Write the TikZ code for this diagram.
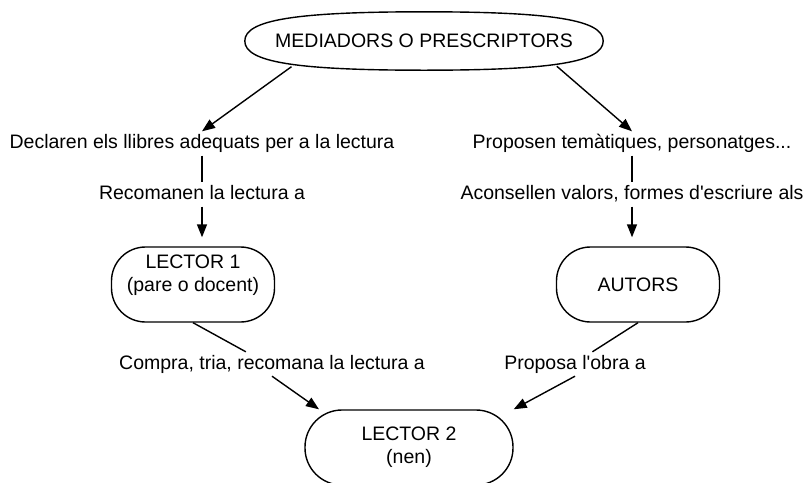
\documentclass[tikz,border=0pt]{standalone}
\usepackage{fontspec}
\setmainfont{Liberation Sans}
\usetikzlibrary{arrows.meta}

\tikzset{
  role/.style={minimum width=358pt, minimum height=58pt, inner sep=0pt},
  actor/.style={draw, line width=1.4pt, rounded corners=34pt, minimum width=163pt, minimum height=75pt, align=center, inner sep=0pt},
  relation/.style={inner sep=3pt, text height=14pt, text depth=4pt},
  link/.style={line width=1.4pt},
  flow/.style={link, -{Triangle[length=13pt,width=10pt]}},
}

\begin{document}
\begin{tikzpicture}[x=1pt, y=-1pt, font=\fontsize{19.5}{23}\selectfont]
    \useasboundingbox (0,0) rectangle (805,482);
    \clip (0,0) rectangle (805,482);
    % Nodes
    \node[role] (med) at (424,41) {MEDIADORS O PRESCRIPTORS} ; %
    \draw[link, line join=round] (med.west) .. controls +(0,-21) and +(-129,0) .. (med.north)
      .. controls +(129,0) and +(0,-21) .. (med.east)
      .. controls +(0,21) and +(129,0) .. (med.south)
      .. controls +(-129,0) and +(0,21) .. (med.west) -- cycle ; %
    \node[relation] (decl) at (202,143.5) {Declaren els llibres adequats per a la lectura} ; %
    \node[relation] (recom) at (202,194.5) {Recomanen la lectura a} ; %
    \node[relation] (prop) at (632,143.5) {Proposen temàtiques, personatges...} ; %
    \node[relation] (acons) at (632,194.5) {Aconsellen valors, formes d\textquotesingle escriure als} ; %
    \node[actor] (lec1) at (193,284.5) {LECTOR 1\\(pare o docent)\\\mbox{}} ; %
    \node[actor] (aut) at (638,284.5) {AUTORS} ; %
    \node[relation] (compra) at (272,364) {Compra, tria, recomana la lectura a} ; %
    \node[relation] (obra) at (575,364) {Proposa l\textquotesingle obra a} ; %
    \node[actor, minimum width=208pt, rounded corners=37pt] (lec2) at (409,447.5) {LECTOR 2\\(nen)} ; %
    % Edges
    \draw[flow, shorten <=-6pt] (med.192) -- (decl.north) ; %
    \draw[flow, shorten <=-6pt] (med.348) -- (prop.north) ; %
    \draw[link] (decl) -- (recom) ; %
    \draw[link] (prop) -- (acons) ; %
    \draw[flow, shorten >=9pt] (recom) -- (recom |- lec1.north) ; %
    \draw[flow, shorten >=9pt] (acons) -- (acons |- aut.north) ; %
    \draw[link] (lec1.south) -- (compra.155) ; %
    \draw[link] (aut.south) -- (obra.35) ; %
    \draw[flow] (compra.south) -- (lec2.157) ; %
    \draw[flow] (obra.south) -- (lec2.north east) ; %
\end{tikzpicture}
\end{document}
